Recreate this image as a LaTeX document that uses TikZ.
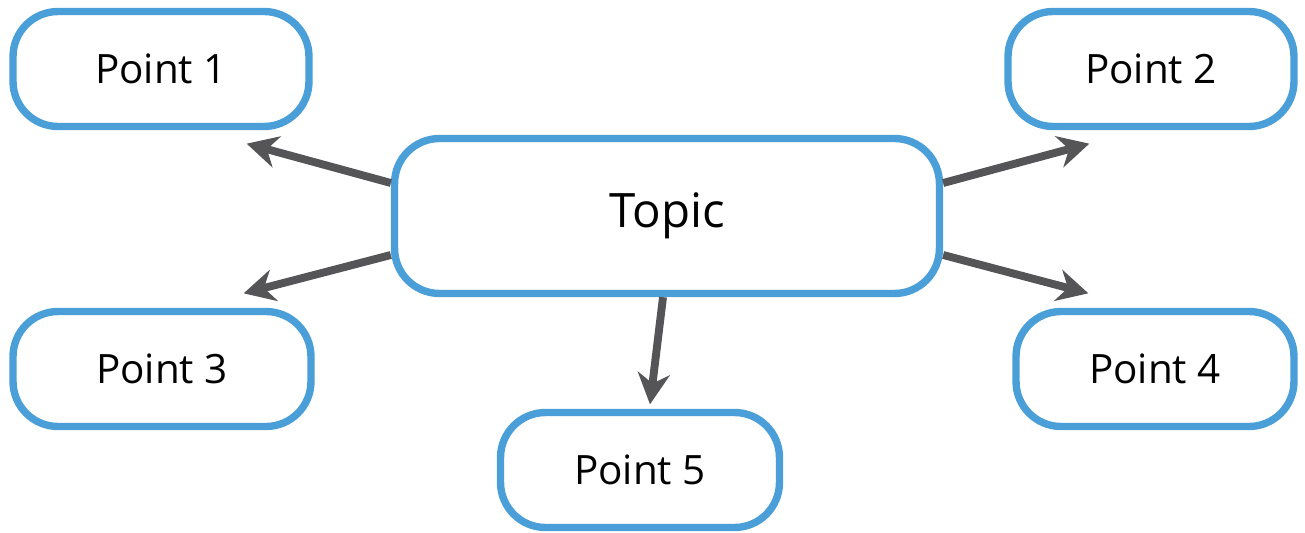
\documentclass[tikz,border=0pt]{standalone}
\usepackage{fontspec}
\setmainfont{Open Sans}
\usetikzlibrary{arrows.meta}
\definecolor{boxblue}{HTML}{4A9FD8}
\definecolor{arrgray}{HTML}{555558}
\begin{document}
\begin{tikzpicture}[x=0.02cm, y=-0.02cm,
  box/.style={draw=boxblue, line width=4.2pt, rounded corners=0.9cm, fill=white,
    minimum height=2.3cm, font=\fontsize{23}{27}\selectfont},
  arr/.style={draw=arrgray, line width=4.5pt, -{Stealth[length=0.62cm, width=0.64cm, inset=0.2cm]}}]
  \useasboundingbox (0,0) rectangle (1305,533); % Frame

  % Central topic
  \node[box, minimum width=10.9cm, minimum height=3.1cm, font=\fontsize{27}{32}\selectfont] (topic) at (667,216) {Topic};

  % Points around the topic
  \foreach \N/\X/\Y/\W/\T in {p1/161/69/5.92/Point 1, p2/1151/69/5.72/Point 2,
      p3/162/369/5.96/Point 3, p4/1155/369/5.56/Point 4, p5/640/470/5.58/Point 5} {
    \node[box, minimum width=\W cm] (\N) at (\X,\Y) {\T};
  }

  % Arrows out of the topic
  \draw[arr] ([yshift=0.66cm]topic.west) -- ([xshift=-1.32cm, yshift=-0.27cm]p1.south east);
  \draw[arr] ([yshift=0.66cm]topic.east) -- ([xshift=1.7cm, yshift=-0.27cm]p2.south west);
  \draw[arr] ([yshift=-0.78cm]topic.west) -- ([xshift=-1.42cm, yshift=0.29cm]p3.north east);
  \draw[arr] ([yshift=-0.78cm]topic.east) -- ([xshift=1.52cm, yshift=0.29cm]p4.north west);
  \draw[arr] ([xshift=-0.08cm]topic.south) -- ([xshift=0.2cm, yshift=0.09cm]p5.north);
\end{tikzpicture}
\end{document}
